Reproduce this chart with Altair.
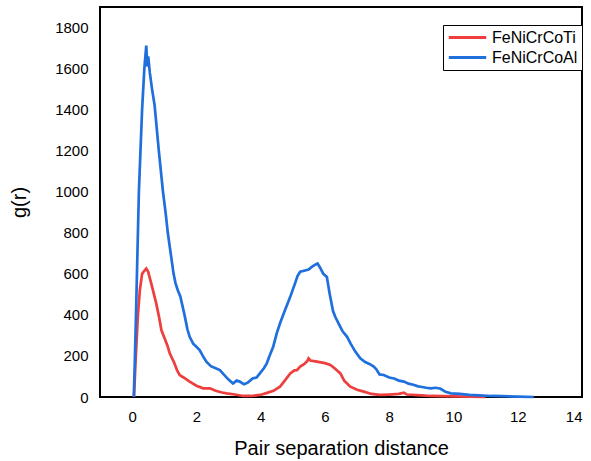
import altair as alt
import pandas as pd

# FeNiCrCoAl (blue)
al_x = [0.05,0.08,0.12,0.21,0.31,0.38,0.44,0.47,0.5,0.55,0.62,0.7,0.83,0.96,1.04,1.11,1.2,1.29,1.35,1.42,1.5,
        1.63,1.72,1.79,1.9,2.0,2.1,2.2,2.31,2.45,2.6,2.73,2.85,3.0,3.14,3.25,3.35,3.48,3.6,3.75,3.87,
        4.0,4.1,4.19,4.3,4.39,4.5,4.6,4.75,4.92,5.05,5.15,5.23,5.35,5.49,5.6,5.7,5.77,5.85,5.95,6.06,
        6.15,6.25,6.32,6.45,6.55,6.69,6.8,6.95,7.1,7.25,7.4,7.52,7.6,7.7,7.83,8.0,8.15,8.3,8.46,8.6,
        8.75,8.9,8.98,9.15,9.29,9.45,9.6,9.75,9.92,10.2,10.5,10.8,11.17,11.5,12.0,12.5]
al_y = [0,150,400,1000,1400,1600,1712,1610,1660,1580,1500,1420,1200,1000,900,800,700,600,555,520,490,
        400,330,293,260,245,229,200,172,150,140,131,110,85,66,80,75,62,70,90,95,
        120,140,164,210,245,310,358,420,488,545,590,610,615,621,635,645,650,630,600,585,
        500,420,391,350,320,293,260,220,188,170,160,148,135,110,107,95,90,80,75,65,
        60,52,50,45,42,45,40,25,18,15,10,8,5,4,2,0]

# FeNiCrCoTi (red)
ti_x = [0.06,0.1,0.18,0.24,0.31,0.38,0.44,0.5,0.6,0.75,0.85,0.91,1.0,1.1,1.17,1.3,1.4,1.48,1.6,1.79,
        2.0,2.21,2.42,2.6,2.8,2.94,3.2,3.46,3.7,3.98,4.2,4.4,4.6,4.75,4.92,5.05,5.13,5.23,5.35,5.45,
        5.49,5.55,5.75,6.0,6.17,6.3,6.48,6.6,6.79,7.0,7.21,7.45,7.7,8.0,8.3,8.46,8.55,9.0,9.3,10.0,11.0]
ti_y = [0,150,400,520,600,615,626,610,550,456,380,326,290,250,213,170,130,107,95,75,
        55,42,42,30,22,18,12,5,5,10,20,30,50,80,115,130,131,148,160,175,
        188,178,172,165,156,140,115,80,50,35,26,15,10,12,15,21,12,8,5,3,0]

series = ["FeNiCrCoTi", "FeNiCrCoAl"]
colors = ["#EE3E3E", "#1F6FDD"]

rows = []
for i, (x, y) in enumerate(zip(ti_x, ti_y)):
    rows.append({"r": x, "g": y, "alloy": series[0], "o": i})
for i, (x, y) in enumerate(zip(al_x, al_y)):
    rows.append({"r": x, "g": y, "alloy": series[1], "o": i})
df = pd.DataFrame(rows)

font = "Liberation Sans"

chart = alt.Chart(df).mark_line(strokeWidth=2.7).encode(
    x=alt.X("r:Q", title="Pair separation distance",
            scale=alt.Scale(domain=[-1, 14], nice=False, zero=False),
            axis=alt.Axis(values=list(range(0, 15, 2)), format="d", grid=False, ticks=False, domain=False,
                          labelFontSize=15, labelPadding=12, titleFontSize=20,
                          titleFontWeight="normal", titlePadding=14, labelColor="black",
                          titleColor="black", labelFont=font, titleFont=font)),
    y=alt.Y("g:Q", title="g(r)",
            scale=alt.Scale(domain=[0, 1900], nice=False),
            axis=alt.Axis(values=list(range(0, 1801, 200)), format="d", grid=False, ticks=False, domain=False,
                          labelFontSize=15, labelPadding=12, titleFontSize=20,
                          titleFontWeight="normal", titlePadding=25, labelColor="black",
                          titleColor="black", labelFont=font, titleFont=font)),
    color=alt.Color("alloy:N", scale=alt.Scale(domain=series, range=colors),
                    legend=alt.Legend(title=None, orient="none", legendX=343, legendY=18,
                                      symbolType="stroke", symbolSize=1400, symbolStrokeWidth=3,
                                      clipHeight=17, labelFontSize=16, labelFont=font, labelColor="black",
                                      strokeColor="black", fillColor="white", padding=4,
                                      rowPadding=3, labelOffset=4)),
    order="o:Q",
).properties(
    width=482, height=390,
    autosize=alt.AutoSizeParams(type="none"),
    padding={"left": 100, "top": 7, "right": 9, "bottom": 64},
    background="white",
).configure_view(stroke="black", strokeWidth=2, strokeOpacity=1)

chart.save("out.html", embed_options={"renderer": "svg", "actions": False})
